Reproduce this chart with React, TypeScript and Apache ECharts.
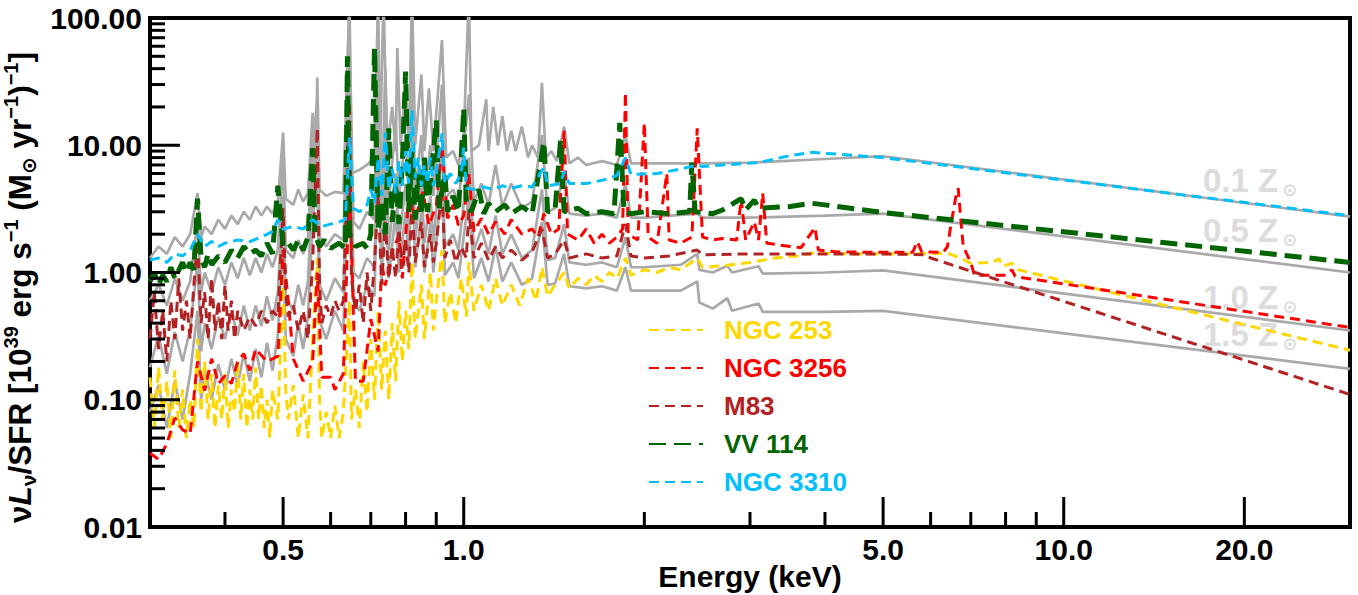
import React, { useEffect, useRef } from 'react';
import * as echarts from 'echarts';

const FONT = '"Liberation Sans", Arial, Helvetica, sans-serif';

// ---- axis ranges & ticks ----
const X_MIN = 0.3;
const X_MAX = 30;
const Y_MIN = 0.01;
const Y_MAX = 100;
const xMajorTicks = [0.5, 1, 5, 10, 20];
const xMajorLabels = ['0.5', '1.0', '5.0', '10.0', '20.0'];
const xMinorTicks = [0.4, 0.6, 0.7, 0.8, 0.9, 2, 3, 4, 6, 7, 8, 9];
const yMajorTicks = [0.1, 1, 10];
const yMinorTicks = [
  0.02, 0.03, 0.04, 0.05, 0.06, 0.07, 0.08, 0.09,
  0.2, 0.3, 0.4, 0.5, 0.6, 0.7, 0.8, 0.9,
  2, 3, 4, 5, 6, 7, 8, 9,
  20, 30, 40, 50, 60, 70, 80, 90,
];

// ---- names & colours ----
const galaxyNames = ['NGC 253', 'NGC 3256', 'M83', 'VV 114', 'NGC 3310'];
const galaxyColors = ['#FFD700', '#FF0000', '#B22222', '#006400', '#00BFFF'];
const metallicityLabels = ['0.1', '0.5', '1.0', '1.5'];

// ---- model spectra (grey, solid) [keV, value] ----
const model01: [number, number][] = [
  [0.30, 1.3], [0.31, 1.6], [0.32, 1.4], [0.33, 1.9], [0.34, 1.6], [0.35, 2.0], [0.36, 4.2], [0.365, 1.9],
  [0.37, 2.3], [0.38, 2.0], [0.39, 2.6], [0.40, 2.2], [0.41, 2.8], [0.42, 2.4], [0.43, 3.0], [0.44, 2.6],
  [0.45, 3.3], [0.46, 2.8], [0.47, 3.3], [0.48, 2.9], [0.49, 3.6], [0.50, 12.6], [0.505, 3.8], [0.52, 3.4],
  [0.53, 4.5], [0.54, 3.6], [0.55, 4.2], [0.56, 18], [0.565, 4.5], [0.57, 34], [0.575, 4.5], [0.59, 4.0],
  [0.61, 4.3], [0.63, 4.2], [0.645, 150], [0.65, 6], [0.67, 6.4], [0.69, 7], [0.71, 8], [0.72, 150],
  [0.725, 8], [0.735, 150], [0.745, 9], [0.76, 20], [0.77, 9], [0.775, 58], [0.785, 10], [0.80, 30],
  [0.81, 10], [0.82, 150], [0.83, 10], [0.85, 36], [0.86, 9], [0.875, 28], [0.89, 9], [0.92, 67],
  [0.935, 8], [0.96, 9], [0.98, 7], [1.0, 12], [1.02, 150], [1.03, 9], [1.06, 10], [1.09, 23],
  [1.1, 9], [1.12, 20], [1.14, 10], [1.16, 17], [1.18, 9], [1.2, 13], [1.22, 9], [1.25, 14],
  [1.28, 8], [1.3, 10], [1.33, 8], [1.35, 31], [1.37, 8], [1.4, 9], [1.43, 7.5], [1.47, 14],
  [1.5, 7.2], [1.55, 8], [1.6, 7], [1.7, 7.5], [1.8, 7.0], [1.86, 12], [1.9, 7.2], [2.0, 7.2],
  [2.5, 7.2], [3.0, 7.3], [4.0, 7.8], [5.0, 8.2], [30, 2.75],
];
const model05: [number, number][] = [
  [0.30, 0.6], [0.31, 0.8], [0.32, 0.55], [0.33, 0.9], [0.34, 0.6], [0.35, 0.85], [0.36, 2.5], [0.365, 0.7],
  [0.37, 1.0], [0.38, 0.7], [0.39, 1.1], [0.40, 0.8], [0.41, 1.2], [0.42, 0.9], [0.43, 1.3], [0.44, 0.95],
  [0.45, 1.3], [0.46, 1.0], [0.47, 1.4], [0.48, 1.1], [0.49, 1.5], [0.50, 8], [0.505, 1.5], [0.52, 1.3],
  [0.53, 1.8], [0.54, 1.4], [0.55, 1.9], [0.56, 10], [0.57, 22], [0.575, 1.9], [0.59, 1.6], [0.61, 2.0],
  [0.63, 1.8], [0.645, 80], [0.655, 2.5], [0.67, 2.2], [0.69, 3.0], [0.71, 2.6], [0.72, 60], [0.73, 3.2],
  [0.74, 40], [0.75, 3.5], [0.77, 15], [0.78, 4.0], [0.80, 12], [0.81, 4.0], [0.82, 45], [0.83, 4.2],
  [0.85, 12], [0.86, 4.0], [0.88, 10], [0.89, 4.0], [0.92, 30], [0.93, 3.8], [0.96, 4.5], [0.98, 3.5],
  [1.02, 25], [1.04, 3.6], [1.07, 5], [1.1, 3.4], [1.13, 7], [1.16, 3.3], [1.2, 5], [1.25, 3.2],
  [1.3, 3.6], [1.35, 12], [1.38, 3.0], [1.42, 3.2], [1.47, 6], [1.5, 2.9], [1.6, 2.8], [1.7, 2.9],
  [1.8, 2.7], [1.86, 5], [1.9, 2.7], [2.0, 2.7], [2.45, 2.9], [2.5, 2.7], [3.0, 2.7], [4.0, 2.8],
  [5.0, 2.9], [30, 1.0],
];
const model10: [number, number][] = [
  [0.30, 0.18], [0.31, 0.32], [0.32, 0.16], [0.33, 0.34], [0.34, 0.2], [0.35, 0.36], [0.36, 1.2], [0.365, 0.24],
  [0.37, 0.4], [0.38, 0.25], [0.39, 0.45], [0.40, 0.3], [0.41, 0.5], [0.42, 0.32], [0.43, 0.55], [0.44, 0.35],
  [0.45, 0.55], [0.46, 0.38], [0.47, 0.65], [0.48, 0.42], [0.49, 0.7], [0.50, 4], [0.505, 0.65], [0.52, 0.5],
  [0.53, 0.8], [0.54, 0.55], [0.55, 0.85], [0.56, 5], [0.57, 12], [0.575, 0.8], [0.59, 0.6], [0.61, 0.9],
  [0.63, 0.7], [0.645, 30], [0.655, 1.0], [0.67, 0.9], [0.69, 1.3], [0.71, 1.1], [0.72, 20], [0.73, 1.4],
  [0.74, 12], [0.75, 1.5], [0.77, 6], [0.78, 1.7], [0.80, 5], [0.81, 1.8], [0.82, 15], [0.83, 1.8],
  [0.85, 5], [0.86, 1.7], [0.88, 4], [0.89, 1.7], [0.92, 10], [0.93, 1.6], [0.96, 2.0], [0.98, 1.5],
  [1.02, 8], [1.04, 1.5], [1.07, 2.2], [1.1, 1.4], [1.13, 2.8], [1.16, 1.4], [1.2, 2.0], [1.25, 1.3],
  [1.3, 1.5], [1.35, 4.5], [1.38, 1.25], [1.42, 1.3], [1.47, 2.4], [1.5, 1.2], [1.6, 1.15], [1.7, 1.2],
  [1.8, 1.1], [1.86, 1.9], [1.9, 1.1], [2.0, 1.1], [2.3, 1.15], [2.45, 1.4], [2.47, 1.05], [2.6, 1.0],
  [2.75, 1.13], [2.8, 1.0], [3.1, 1.12], [3.15, 0.98], [4.0, 1.0], [5.0, 1.04], [30, 0.35],
];
const model15: [number, number][] = [
  [0.30, 0.08], [0.31, 0.13], [0.32, 0.06], [0.33, 0.14], [0.34, 0.07], [0.35, 0.16], [0.36, 0.5], [0.365, 0.1],
  [0.37, 0.17], [0.38, 0.1], [0.39, 0.19], [0.40, 0.12], [0.41, 0.21], [0.42, 0.13], [0.43, 0.23], [0.44, 0.14],
  [0.45, 0.25], [0.46, 0.15], [0.47, 0.28], [0.48, 0.17], [0.49, 0.32], [0.50, 2.0], [0.505, 0.3], [0.52, 0.22],
  [0.53, 0.4], [0.54, 0.25], [0.55, 0.45], [0.56, 2.5], [0.57, 6], [0.575, 0.42], [0.59, 0.3], [0.61, 0.5],
  [0.63, 0.35], [0.645, 15], [0.655, 0.6], [0.67, 0.5], [0.69, 0.8], [0.71, 0.65], [0.72, 10], [0.73, 0.85],
  [0.74, 6], [0.75, 0.9], [0.77, 3], [0.78, 1.0], [0.80, 3], [0.81, 1.1], [0.82, 8], [0.83, 1.1],
  [0.85, 3], [0.86, 1.0], [0.88, 2.5], [0.89, 1.0], [0.92, 5], [0.93, 0.95], [0.96, 1.2], [0.98, 0.9],
  [1.02, 4], [1.04, 0.9], [1.07, 1.3], [1.1, 0.85], [1.13, 1.6], [1.16, 0.85], [1.2, 1.2], [1.25, 0.8],
  [1.3, 0.9], [1.35, 2.5], [1.38, 0.8], [1.42, 0.82], [1.47, 1.4], [1.5, 0.78], [1.6, 0.75], [1.7, 0.78],
  [1.8, 0.72], [1.86, 1.1], [1.9, 0.72], [2.0, 0.72], [2.3, 0.72], [2.45, 0.85], [2.47, 0.58], [2.6, 0.52],
  [2.75, 0.63], [2.8, 0.5], [3.1, 0.57], [3.15, 0.49], [4.0, 0.49], [5.0, 0.5], [30, 0.175],
];

// ---- observed galaxies [keV, value] ----
const ngc253: [number, number][] = [
  [0.30, 0.15], [0.305, 0.06], [0.31, 0.18], [0.315, 0.07], [0.32, 0.14], [0.325, 0.05], [0.33, 0.17], [0.335, 0.06],
  [0.34, 0.12], [0.345, 0.05], [0.35, 0.1], [0.355, 0.06], [0.36, 0.3], [0.365, 0.08], [0.37, 0.2], [0.375, 0.07],
  [0.38, 0.16], [0.385, 0.06], [0.39, 0.13], [0.395, 0.07], [0.40, 0.16], [0.405, 0.06], [0.41, 0.12], [0.415, 0.08],
  [0.42, 0.2], [0.425, 0.07], [0.43, 0.16], [0.435, 0.06], [0.44, 0.12], [0.445, 0.07], [0.45, 0.18], [0.455, 0.07],
  [0.46, 0.13], [0.465, 0.06], [0.47, 0.1], [0.475, 0.05], [0.48, 0.12], [0.49, 0.07], [0.50, 0.9], [0.505, 0.12],
  [0.51, 0.07], [0.52, 0.13], [0.53, 0.05], [0.54, 0.11], [0.55, 0.05], [0.56, 0.3], [0.57, 1.3], [0.575, 0.1],
  [0.58, 0.05], [0.59, 0.08], [0.60, 0.05], [0.61, 0.09], [0.62, 0.05], [0.63, 0.08], [0.645, 0.6], [0.65, 0.07],
  [0.66, 0.12], [0.67, 0.06], [0.68, 0.2], [0.69, 0.08], [0.70, 0.3], [0.71, 0.1], [0.72, 0.5], [0.73, 0.12],
  [0.74, 0.35], [0.75, 0.1], [0.76, 0.4], [0.77, 0.14], [0.78, 0.6], [0.79, 0.2], [0.80, 0.5], [0.81, 0.25],
  [0.82, 1.2], [0.83, 0.3], [0.85, 0.8], [0.86, 0.3], [0.88, 1.0], [0.89, 0.35], [0.90, 0.6], [0.92, 1.5],
  [0.93, 0.4], [0.95, 0.7], [0.97, 0.4], [0.99, 0.9], [1.01, 0.45], [1.02, 1.2], [1.04, 0.5], [1.07, 0.8],
  [1.1, 0.5], [1.13, 0.9], [1.16, 0.55], [1.2, 0.8], [1.24, 0.55], [1.28, 0.9], [1.32, 0.6], [1.35, 1.1],
  [1.38, 0.65], [1.42, 0.8], [1.47, 1.0], [1.5, 0.75], [1.55, 0.9], [1.6, 0.8], [1.65, 0.95], [1.7, 0.85],
  [1.75, 1.0], [1.8, 0.9], [1.86, 1.3], [1.9, 0.95], [2.0, 1.05], [2.1, 1.0], [2.2, 1.1], [2.3, 1.05],
  [2.45, 1.3], [2.5, 1.1], [2.7, 1.13], [3.0, 1.2], [3.3, 1.3], [3.6, 1.35], [3.8, 1.42], [4.5, 1.4],
  [5.5, 1.4], [6.4, 1.42], [6.7, 1.31], [7.0, 1.18], [7.6, 1.2], [7.8, 1.28], [7.9, 1.12], [8.2, 1.18],
  [8.4, 1.05], [30, 0.245],
];
const ngc3256: [number, number][] = [
  [0.30, 0.038], [0.31, 0.034], [0.32, 0.045], [0.33, 0.072], [0.34, 0.058], [0.35, 0.054], [0.36, 0.2], [0.37, 0.118],
  [0.38, 0.21], [0.39, 0.134], [0.40, 0.154], [0.41, 0.134], [0.42, 0.2], [0.43, 0.23], [0.44, 0.17], [0.45, 0.25],
  [0.47, 0.2], [0.49, 0.22], [0.50, 1.5], [0.51, 0.6], [0.52, 0.21], [0.54, 0.14], [0.56, 0.2], [0.57, 1.0],
  [0.58, 0.15], [0.60, 0.15], [0.61, 0.12], [0.63, 0.16], [0.645, 5], [0.66, 0.14], [0.68, 0.14], [0.70, 0.43],
  [0.72, 0.24], [0.73, 1.2], [0.74, 0.79], [0.76, 1.46], [0.78, 1.96], [0.79, 0.9], [0.81, 4.0], [0.83, 2.66],
  [0.855, 4.3], [0.875, 2.35], [0.90, 3.37], [0.92, 10], [0.94, 2.66], [0.96, 3.4], [0.98, 2.35], [1.00, 2.8],
  [1.02, 6], [1.04, 2.1], [1.07, 2.66], [1.1, 2.0], [1.13, 2.5], [1.17, 2.0], [1.2, 2.6], [1.25, 2.0],
  [1.3, 2.2], [1.33, 1.9], [1.36, 2.9], [1.4, 2.0], [1.44, 2.2], [1.47, 13], [1.49, 2.0], [1.55, 1.8],
  [1.6, 2.2], [1.65, 1.7], [1.7, 2.0], [1.75, 1.7], [1.8, 1.9], [1.84, 2.2], [1.86, 26], [1.88, 2.0],
  [1.95, 1.8], [2.0, 15], [2.03, 1.9], [2.1, 1.7], [2.18, 6.0], [2.2, 1.8], [2.3, 1.7], [2.4, 1.9],
  [2.45, 13.6], [2.5, 1.9], [2.6, 1.8], [2.7, 1.85], [2.85, 1.8], [2.9, 3.8], [2.95, 1.8], [3.05, 2.5],
  [3.1, 1.8], [3.15, 4.2], [3.2, 1.7], [3.5, 1.6], [3.65, 1.57], [3.85, 2.26], [3.9, 1.5], [4.2, 1.45],
  [5.0, 1.44], [5.6, 1.44], [5.7, 1.75], [5.8, 1.45], [6.3, 1.44], [6.4, 1.6], [6.5, 2.5], [6.6, 3.8],
  [6.67, 4.6], [6.72, 3.0], [6.8, 1.6], [7.0, 1.2], [7.1, 0.95], [8.0, 0.95], [8.2, 1.05], [8.3, 0.93],
  [30, 0.37],
];
const m83: [number, number][] = [
  [0.30, 0.3], [0.305, 0.7], [0.31, 0.25], [0.315, 0.5], [0.32, 0.2], [0.325, 0.6], [0.33, 0.3], [0.335, 0.9],
  [0.34, 0.35], [0.345, 0.6], [0.35, 0.3], [0.355, 0.8], [0.36, 1.8], [0.365, 0.4], [0.37, 0.7], [0.375, 0.3],
  [0.38, 0.9], [0.385, 0.35], [0.39, 0.6], [0.395, 0.3], [0.40, 0.8], [0.405, 0.35], [0.41, 0.6], [0.415, 0.3],
  [0.42, 0.5], [0.43, 0.35], [0.44, 0.45], [0.45, 0.38], [0.46, 0.5], [0.47, 0.4], [0.48, 0.5], [0.49, 0.45],
  [0.50, 3.2], [0.505, 0.7], [0.51, 0.45], [0.52, 0.55], [0.53, 0.35], [0.54, 0.5], [0.55, 0.3], [0.56, 1.2],
  [0.57, 13.6], [0.575, 0.8], [0.58, 0.4], [0.59, 0.55], [0.60, 0.45], [0.61, 0.6], [0.62, 0.5], [0.63, 0.6],
  [0.645, 22], [0.65, 0.9], [0.66, 0.5], [0.67, 0.8], [0.68, 0.4], [0.69, 1.0], [0.70, 0.5], [0.71, 1.2],
  [0.72, 4.0], [0.73, 0.8], [0.74, 2.5], [0.75, 0.9], [0.76, 1.6], [0.77, 0.9], [0.78, 2.2], [0.79, 1.1],
  [0.80, 1.8], [0.81, 1.0], [0.82, 3.5], [0.83, 1.2], [0.85, 2.5], [0.86, 1.1], [0.88, 2.0], [0.89, 1.2],
  [0.90, 1.7], [0.92, 4.5], [0.93, 1.3], [0.95, 1.8], [0.97, 1.2], [0.99, 1.6], [1.01, 1.3], [1.02, 3.0],
  [1.04, 1.3], [1.07, 1.7], [1.1, 1.25], [1.13, 1.6], [1.16, 1.3], [1.2, 1.5], [1.25, 1.25], [1.3, 1.45],
  [1.35, 2.2], [1.38, 1.3], [1.42, 1.4], [1.47, 1.8], [1.5, 1.3], [1.6, 1.4], [1.7, 1.3], [1.8, 1.35],
  [1.86, 2.4], [1.9, 1.35], [2.0, 1.3], [2.2, 1.35], [2.45, 1.5], [2.5, 1.38], [3.0, 1.4], [4.0, 1.4],
  [5.0, 1.4], [5.9, 1.38], [6.0, 1.3], [30, 0.11],
];
const vv114: [number, number][] = [
  [0.30, 0.85], [0.305, 1.0], [0.31, 0.8], [0.315, 0.95], [0.32, 0.85], [0.325, 1.1], [0.33, 0.9], [0.34, 1.2],
  [0.345, 1.0], [0.35, 1.2], [0.355, 1.05], [0.36, 3.8], [0.365, 1.3], [0.37, 1.1], [0.375, 1.4], [0.38, 1.15],
  [0.39, 1.35], [0.40, 1.2], [0.41, 1.5], [0.42, 1.3], [0.43, 1.6], [0.44, 1.4], [0.45, 1.5], [0.46, 1.35],
  [0.47, 1.7], [0.48, 1.4], [0.49, 4.8], [0.50, 1.6], [0.51, 1.7], [0.52, 1.5], [0.53, 1.8], [0.54, 1.5],
  [0.55, 1.9], [0.56, 9.5], [0.565, 2.0], [0.575, 1.6], [0.585, 1.8], [0.60, 1.55], [0.62, 1.7], [0.635, 1.55],
  [0.64, 50], [0.645, 2.0], [0.66, 1.6], [0.68, 1.7], [0.69, 1.55], [0.70, 2.0], [0.71, 58], [0.72, 2.2],
  [0.73, 3.5], [0.74, 2.0], [0.75, 13.6], [0.76, 2.5], [0.77, 5], [0.78, 2.4], [0.79, 7], [0.80, 38],
  [0.81, 3.0], [0.82, 9], [0.83, 2.6], [0.84, 6], [0.85, 2.8], [0.86, 8], [0.87, 3.0], [0.88, 5],
  [0.90, 15.7], [0.91, 3.2], [0.93, 6], [0.94, 3.0], [0.96, 4], [0.98, 3.0], [1.0, 19.5], [1.01, 3.4],
  [1.03, 3.0], [1.06, 4.5], [1.08, 2.9], [1.1, 3.5], [1.13, 3.0], [1.17, 3.4], [1.2, 2.9], [1.25, 3.3],
  [1.3, 2.9], [1.36, 10.6], [1.38, 3.0], [1.42, 3.1], [1.45, 11], [1.47, 3.0], [1.55, 3.2], [1.6, 2.9],
  [1.7, 3.0], [1.78, 2.9], [1.82, 15], [1.85, 3.0], [1.9, 2.9], [2.0, 3.0], [2.2, 2.9], [2.38, 3.0],
  [2.4, 7.3], [2.43, 3.0], [2.6, 2.9], [2.7, 3.1], [2.9, 3.8], [2.95, 3.1], [3.05, 3.7], [3.1, 3.2],
  [3.5, 3.3], [3.8, 3.5], [4.0, 3.4], [5.0, 2.96], [30, 1.2],
];
const ngc3310: [number, number][] = [
  [0.30, 1.25], [0.31, 1.3], [0.32, 1.2], [0.33, 1.4], [0.34, 1.35], [0.35, 1.5], [0.36, 2.0], [0.37, 1.6],
  [0.38, 1.75], [0.39, 1.6], [0.40, 1.7], [0.42, 1.8], [0.44, 1.75], [0.46, 1.9], [0.48, 2.1], [0.49, 2.6],
  [0.50, 2.2], [0.52, 2.3], [0.54, 2.2], [0.56, 2.6], [0.58, 2.3], [0.60, 2.4], [0.62, 2.5], [0.635, 2.6],
  [0.645, 11.5], [0.655, 3.2], [0.67, 3.0], [0.69, 3.4], [0.70, 4.5], [0.71, 3.5], [0.72, 8], [0.73, 4],
  [0.74, 12.6], [0.75, 4.5], [0.76, 6.5], [0.77, 4.2], [0.78, 7.5], [0.79, 4.8], [0.80, 9], [0.81, 5],
  [0.82, 18.9], [0.83, 5.5], [0.84, 8], [0.85, 4.8], [0.86, 7], [0.87, 5], [0.88, 8], [0.89, 4.8],
  [0.90, 6], [0.92, 12.4], [0.93, 5], [0.95, 6], [0.97, 5], [0.99, 6], [1.0, 9.6], [1.01, 4.6],
  [1.04, 4.5], [1.08, 4.7], [1.12, 4.5], [1.16, 4.8], [1.2, 4.6], [1.25, 4.8], [1.3, 4.7], [1.36, 6.7],
  [1.38, 4.8], [1.45, 5.0], [1.47, 6.2], [1.5, 5.0], [1.6, 5.0], [1.7, 5.3], [1.75, 5.5], [1.8, 5.8],
  [1.86, 8.0], [1.9, 5.9], [2.1, 6.0], [2.3, 6.5], [2.45, 7.0], [2.5, 6.8], [2.7, 7.0], [3.1, 7.3],
  [3.5, 8.3], [3.8, 8.8], [5.0, 8.0], [30, 2.8],
];

const galaxyData = [ngc253, ngc3256, m83, vv114, ngc3310];
const modelData = [model01, model05, model10, model15];

export default function App() {
  const ref = useRef<HTMLDivElement>(null);

  useEffect(() => {
    if (!ref.current) return;
    const chart = echarts.init(ref.current, undefined, { renderer: 'svg' });

    const thinDash = [10, 6];
    const thickDash = [17, 8];

    const modelSeries = modelData.map((d, i) => ({
      name: 'model' + i,
      type: 'line',
      data: d,
      symbol: 'none',
      showSymbol: false,
      lineStyle: { color: '#A9A9A9', width: 2.7, type: 'solid' },
      z: 2,
      silent: true,
    }));

    const galaxySeries = galaxyData.map((d, i) => ({
      name: galaxyNames[i],
      type: 'line',
      data: d,
      symbol: 'none',
      showSymbol: false,
      itemStyle: { color: galaxyColors[i] },
      lineStyle: {
        color: galaxyColors[i],
        width: i === 3 ? 5 : 3,
        type: i === 3 ? thickDash : thinDash,
      },
      z: 3,
      silent: true,
    }));

    const xTickData = [
      ...xMajorTicks.map((v, i) => [v, Y_MIN, 1, i]),
      ...xMinorTicks.map((v) => [v, Y_MIN, 0, -1]),
    ];
    const yTickData = [
      ...yMajorTicks.map((v) => [X_MIN, v, 1]),
      ...yMinorTicks.map((v) => [X_MIN, v, 0]),
    ];

    const xTickSeries = {
      name: 'xticks',
      type: 'custom',
      data: xTickData,
      silent: true,
      z: 10,
      renderItem: (params: any, api: any) => {
        const e = api.value(0);
        const major = api.value(2) === 1;
        const p = api.coord([e, Y_MIN]);
        const len = major ? 30 : 15;
        const children: any[] = [
          {
            type: 'line',
            shape: { x1: p[0], y1: p[1], x2: p[0], y2: p[1] - len },
            style: { stroke: '#000', lineWidth: 3 },
          },
        ];
        if (major) {
          children.push({
            type: 'text',
            x: p[0],
            y: p[1] + 7,
            style: {
              text: xMajorLabels[api.value(3)],
              align: 'center',
              verticalAlign: 'top',
              fontSize: 30,
              fontWeight: 'bold',
              fontFamily: FONT,
              fill: '#000',
            },
          });
        }
        return { type: 'group', children };
      },
    };

    const yTickSeries = {
      name: 'yticks',
      type: 'custom',
      data: yTickData,
      silent: true,
      z: 10,
      renderItem: (params: any, api: any) => {
        const v = api.value(1);
        const major = api.value(2) === 1;
        const p = api.coord([X_MIN, v]);
        const len = major ? 30 : 15;
        return {
          type: 'line',
          shape: { x1: p[0], y1: p[1], x2: p[0] + len, y2: p[1] },
          style: { stroke: '#000', lineWidth: 3 },
        };
      },
    };

    const metalY = [180, 230, 297, 334];

    const option: any = {
      animation: false,
      backgroundColor: '#fff',
      grid: {
        left: 150,
        right: 8,
        top: 18,
        bottom: 68,
        show: true,
        borderColor: '#000',
        borderWidth: 4,
        backgroundColor: 'transparent',
        outerBoundsMode: 'none',
      },
      xAxis: {
        type: 'log',
        logBase: 10,
        min: X_MIN,
        max: X_MAX,
        axisLine: { show: false },
        axisTick: { show: false },
        axisLabel: { show: false },
        splitLine: { show: false },
        minorTick: { show: false },
        name: 'Energy (keV)',
        nameLocation: 'middle',
        nameGap: 34,
        nameTextStyle: { fontSize: 30, fontWeight: 'bold', fontFamily: FONT, color: '#000' },
      },
      yAxis: {
        type: 'log',
        logBase: 10,
        min: Y_MIN,
        max: Y_MAX,
        axisLine: { show: false },
        axisTick: { show: false },
        splitLine: { show: false },
        axisLabel: {
          margin: 8,
          fontSize: 30,
          fontWeight: 'bold',
          fontFamily: FONT,
          color: '#000',
          formatter: (v: number) => v.toFixed(2),
        },
        name:
          '{b|ν}{i|L}{s|ν}{b|/SFR [10}{p|39}{b| erg s}{p|−1}{b| (M}{o|⊙}{b| yr}{p|−1}{b|)}{p|−1}{b|]}',
        nameLocation: 'middle',
        nameRotate: 90,
        nameGap: 100,
        nameTextStyle: {
          fontFamily: FONT,
          fontWeight: 'bold',
          fontSize: 31,
          color: '#000',
          padding: [0, 30, 0, 0],
          rich: {
            b: { fontFamily: FONT, fontWeight: 'bold', fontSize: 31.5, lineHeight: 38, color: '#000' },
            i: { fontFamily: FONT, fontWeight: 'bold', fontStyle: 'italic', fontSize: 31.5, lineHeight: 38, color: '#000' },
            s: { fontFamily: FONT, fontWeight: 'bold', fontSize: 21, lineHeight: 21, verticalAlign: 'bottom', color: '#000' },
            p: { fontFamily: FONT, fontWeight: 'bold', fontSize: 20, lineHeight: 20, verticalAlign: 'top', color: '#000' },
            o: { fontFamily: '"DejaVu Sans", sans-serif', fontWeight: 'bold', fontSize: 20, lineHeight: 22, verticalAlign: 'bottom', color: '#000' },
          },
        },
      },
      legend: {
        orient: 'vertical',
        left: 643,
        top: 312,
        itemWidth: 54,
        itemHeight: 14,
        itemGap: 12,
        selectedMode: false,
        itemStyle: { opacity: 0 },
        data: galaxyNames.map((n, i) => ({ name: n, textStyle: { color: galaxyColors[i] } })),
        textStyle: {
          fontSize: 26,
          fontWeight: 'bold',
          fontFamily: FONT,
          padding: [0, 0, 0, 16],
        },
      },
      graphic: metallicityLabels.map((t, i) => ({
        type: 'text',
        x: 1203,
        y: metalY[i],
        z: 0,
        silent: true,
        style: {
          text: `{a|${t} Z}{b|⊙}`,
          align: 'left',
          verticalAlign: 'middle',
          rich: {
            a: { fontSize: 33, fontWeight: 'bold', fontFamily: FONT, fill: '#DCDCDC', lineHeight: 36 },
            b: {
              fontSize: 18,
              fontWeight: 'bold',
              fontFamily: '"DejaVu Sans", sans-serif',
              fill: '#DCDCDC',
              lineHeight: 20,
              verticalAlign: 'bottom',
              padding: [0, 0, 0, 4],
            },
          },
        },
      })),
      series: [...modelSeries, ...galaxySeries, xTickSeries, yTickSeries],
    };

    chart.setOption(option);
    return () => chart.dispose();
  }, []);

  return (
    <div
      ref={ref}
      style={{ position: 'absolute', left: 0, top: 0, width: 1358, height: 595, background: '#fff' }}
    />
  );
}
